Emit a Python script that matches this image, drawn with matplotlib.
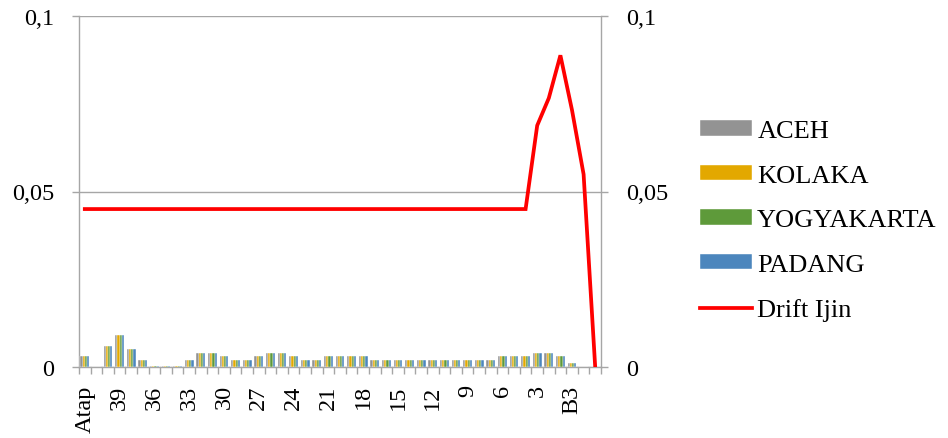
import matplotlib
matplotlib.use("Agg")
import matplotlib.pyplot as plt
import numpy as np
from matplotlib.ticker import FixedLocator, FuncFormatter

categories = ["Atap"] + [str(i) for i in range(41, 0, -1)] + ["B3", "B2", "B1"]

aceh = [0.003, 0.0, 0.006, 0.009, 0.005, 0.002, 0.0003, 0.0003, 0.0003, 0.002,
        0.004, 0.004, 0.003, 0.002, 0.002, 0.003, 0.004, 0.004, 0.003, 0.002,
        0.002, 0.003, 0.003, 0.003, 0.003, 0.002, 0.002, 0.002, 0.002, 0.002,
        0.002, 0.002, 0.002, 0.002, 0.002, 0.002, 0.003, 0.003, 0.003, 0.004,
        0.004, 0.003, 0.001, 0.0, 0.0]
kolaka = list(aceh)
yogyakarta = list(aceh)
padang = list(aceh)
drift_ijin = [0.045] * 39 + [0.0688, 0.0766, 0.0888, 0.0732, 0.0549, 0.0]

series_names = ["ACEH", "KOLAKA", "YOGYAKARTA", "PADANG"]
series_vals = [aceh, kolaka, yogyakarta, padang]
colors = ["#939393", "#E3A800", "#5E9A3A", "#4C86BD"]

plt.rcParams['font.family'] = ['Liberation Serif', 'DejaVu Serif']
fs = 17.5
lfs = 19

fig = plt.figure(figsize=(9.48, 4.39), dpi=100)
ax = fig.add_axes([79/948, 1-368/439, (601-79)/948, (368-17)/439])

x = np.arange(len(categories))
bw = 0.19
handles = []
for k, (name, vals, c) in enumerate(zip(series_names, series_vals, colors)):
    h = ax.bar(x + (k - 1.5) * bw, vals, width=bw, color=c, label=name, zorder=3,
               edgecolor="white", linewidth=0.3)
    handles.append(h)
ln, = ax.plot(x, drift_ijin, color="#FF0000", linewidth=2.7, label="Drift Ijin", zorder=5,
              solid_joinstyle="miter")
handles.append(ln)

ax.set_xlim(-0.5, len(categories) - 0.5)
ax.set_ylim(0, 0.1)
ax.set_yticks([0, 0.05, 0.1])
fmt = FuncFormatter(lambda v, p: "0" if v == 0 else ("%g" % v).replace(".", ","))
ax.yaxis.set_major_formatter(fmt)
ax.yaxis.grid(True, color="#A6A6A6", linewidth=1.0, zorder=0)
ax.set_axisbelow(True)

ax.set_xticks(x[::3])
ax.set_xticklabels(categories[::3], rotation=90, fontsize=fs)
ax.xaxis.set_minor_locator(FixedLocator(np.arange(-0.5, len(categories), 1.0)))
ax.tick_params(axis="x", which="major", length=0, pad=12.5)
ax.tick_params(axis="x", which="minor", length=5, width=1, color="#A6A6A6", direction="out")
ax.tick_params(axis="y", which="major", length=5, width=1, color="#A6A6A6", direction="out",
               left=True, right=True, labelleft=True, labelright=True, labelsize=fs, pad=13)

for s in ["left", "right", "bottom"]:
    ax.spines[s].set_color("#A6A6A6")
    ax.spines[s].set_linewidth(1.0)
ax.spines["top"].set_visible(False)

leg = fig.legend(handles=handles, labels=series_names + ["Drift Ijin"],
                 loc="center left", bbox_to_anchor=(700/948, 1-221.7/439), frameon=False,
                 fontsize=lfs, handlelength=1.97, handleheight=0.53, handletextpad=0.2,
                 labelspacing=0.85, borderpad=0, borderaxespad=0)

fig.savefig("out.png", dpi=100)
